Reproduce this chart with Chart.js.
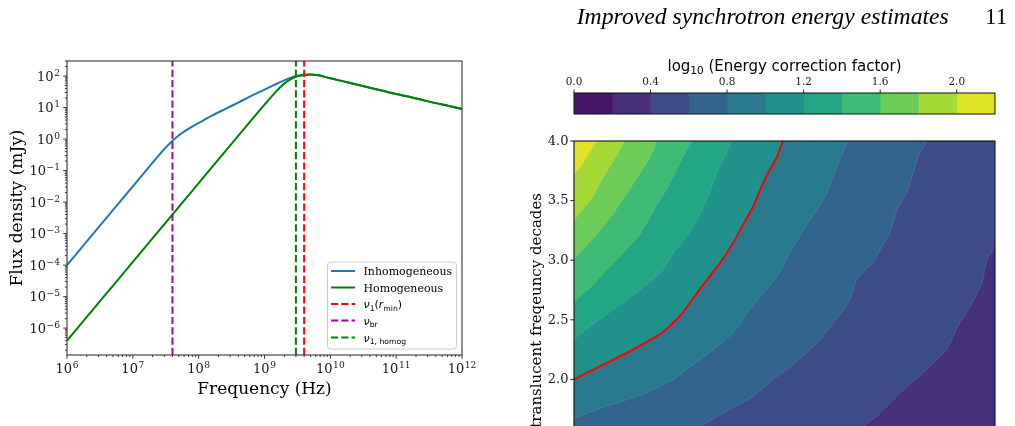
<!DOCTYPE html>
<html><head><meta charset="utf-8">
<title>Synchrotron spectra and energy correction factor</title>
<script src="https://cdn.jsdelivr.net/npm/chart.js@4.4.1/dist/chart.umd.min.js"></script>
<style>
html,body{margin:0;padding:0;background:#fff;overflow:hidden;}
body{width:1015px;height:426px;position:relative;}
canvas{position:absolute;display:block;}
#c1{left:0;top:0;}
#c2{left:500px;top:0;}
#c3{left:540px;top:40px;}
</style></head><body>
<canvas id="c1" width="500" height="426"></canvas>
<canvas id="c2" width="515" height="460"></canvas>
<canvas id="c3" width="475" height="90"></canvas>
<script>
// ================= LEFT PANEL DATA =================
const freqHz = [
  1.0e6, 1.585e6, 2.512e6, 3.981e6, 6.31e6,
  1.0e7, 1.585e7, 2.512e7, 3.162e7, 3.981e7, 5.012e7, 6.31e7, 7.943e7,
  1.0e8, 1.585e8, 2.512e8, 3.981e8, 6.31e8,
  1.0e9, 1.259e9, 1.585e9, 1.995e9, 2.512e9, 3.162e9, 3.981e9, 5.012e9, 6.31e9,
  1.0e10, 1.585e10, 2.512e10, 3.981e10, 6.31e10,
  1.0e11, 1.585e11, 2.512e11, 3.981e11, 6.31e11,
  1.0e12
];
const fluxInhomogeneous = [
  1.0e-4, 3.16e-4, 1.0e-3, 3.16e-3, 1.0e-2,
  3.16e-2, 0.100, 0.316, 0.537, 0.871, 1.318, 1.862, 2.483,
  3.236, 5.50, 8.91, 14.3, 23.4,
  37.2, 47.0, 58.9, 72.4, 89.1, 102, 110, 112, 107,
  85.1, 67.6, 53.7, 42.7, 33.9,
  26.9, 21.9, 17.4, 13.8, 11.2,
  8.9
];
const fluxHomogeneous = [
  4.0e-7, 1.26e-6, 4.0e-6, 1.26e-5, 4.0e-5,
  1.26e-4, 4.0e-4, 1.26e-3, 2.24e-3, 4.0e-3, 7.1e-3, 1.26e-2, 2.24e-2,
  4.0e-2, 0.126, 0.40, 1.26, 3.98,
  12.3, 21.4, 36.3, 57.5, 79.4, 97.7, 107, 112, 107,
  85.1, 67.6, 53.7, 42.7, 33.9,
  26.9, 21.9, 17.4, 13.8, 11.2,
  8.9
];
const nu1Rmin = 4.0e9;
const nuBr = 4.0e7;
const nu1Homog = 3.0e9;
const freqRange = [1.0e6, 1.0e12];
const fluxRange = [1.4e-7, 3.0e2];
const xTickExponents = [6, 7, 8, 9, 10, 11, 12];
const yTickExponents = [-6, -5, -4, -3, -2, -1, 0, 1, 2];

// ================= RIGHT PANEL DATA =================
const contourLevels = [0.0, 0.2, 0.4, 0.6, 0.8, 1.0, 1.2, 1.4, 1.6, 1.8, 2.0, 2.2];
const levelColors = ['#481668', '#462f7c', '#3e4b89', '#33648d', '#297a8e', '#21918c',
                     '#22a685', '#3ebb74', '#6bcc59', '#a5da36', '#e0e325'];
const colorbarTicks = [0.0, 0.4, 0.8, 1.2, 1.6, 2.0];
const rightYTicks = [2.0, 2.5, 3.0, 3.5, 4.0];
const rightXRange = [0, 1];
const rightYRange = [1.5, 4.0];
// contour boundaries: [x (fraction of axis), translucent frequency decades]
const boundary0p4 = [[0,1.0],[0.656,1.492],[0.689,1.609],[0.720,1.693],[0.784,1.919],[0.834,2.070],
  [0.886,2.255],[0.910,2.431],[0.917,2.473],[0.943,2.624],[0.969,2.809],[0.981,3.002],[1.0,3.111]];
const boundary0p6 = [[0,1.0],[0.204,1.450],[0.252,1.525],[0.302,1.609],[0.363,1.735],[0.428,1.861],
  [0.468,1.987],[0.525,2.138],[0.582,2.322],[0.610,2.448],[0.632,2.549],[0.648,2.624],[0.658,2.691],
  [0.670,2.826],[0.689,2.909],[0.710,2.977],[0.727,3.086],[0.751,3.237],[0.767,3.421],[0.791,3.572],
  [0.808,3.757],[0.819,3.883],[0.838,4.0]];
const boundary0p8 = [[0,1.676],[0.078,1.777],[0.166,1.878],[0.238,2.003],[0.278,2.112],[0.333,2.255],
  [0.380,2.398],[0.413,2.565],[0.442,2.691],[0.482,2.859],[0.513,3.069],[0.542,3.237],[0.570,3.388],
  [0.599,3.547],[0.620,3.748],[0.637,3.891],[0.648,4.0]];
const boundary1p0 = [[0,2.0],[0.038,2.070],[0.078,2.138],[0.143,2.255],[0.181,2.331],[0.211,2.398],
  [0.252,2.532],[0.299,2.758],[0.347,2.977],[0.378,3.144],[0.401,3.295],[0.425,3.446],[0.442,3.589],
  [0.463,3.748],[0.482,3.866],[0.496,4.0]];
const boundary1p2 = [[0,2.339],[0.048,2.473],[0.095,2.591],[0.159,2.758],[0.207,2.901],[0.238,3.069],
  [0.271,3.220],[0.297,3.371],[0.318,3.530],[0.340,3.740],[0.359,3.883],[0.375,4.0]];
const boundary1p4 = [[0,2.649],[0.040,2.775],[0.078,2.918],[0.119,3.069],[0.154,3.203],[0.176,3.329],
  [0.197,3.463],[0.219,3.589],[0.238,3.715],[0.259,3.866],[0.280,4.0]];
const boundary1p6 = [[0,3.010],[0.029,3.119],[0.057,3.228],[0.086,3.354],[0.119,3.522],[0.159,3.740],
  [0.181,3.866],[0.197,4.0]];
const boundary1p8 = [[0,3.337],[0.026,3.446],[0.048,3.547],[0.062,3.648],[0.083,3.773],[0.102,3.883],[0.121,4.0]];
const boundary2p0 = [[0,3.715],[0.019,3.799],[0.033,3.883],[0.055,4.0]];

// ================= helpers =================
function drawPow10(ctx, exp, x, baseline, align) {
  const base = '10';
  const sup = exp < 0 ? '\u2212' + (-exp) : String(exp);
  ctx.textAlign = 'left'; ctx.textBaseline = 'alphabetic';
  ctx.font = '13px "DejaVu Serif"';
  const w1 = ctx.measureText(base).width;
  ctx.font = '9.1px "DejaVu Serif"';
  const w2 = ctx.measureText(sup).width;
  const total = w1 + w2 + 0.6;
  const x0 = align === 'center' ? x - total / 2 : (align === 'right' ? x - total : x);
  ctx.font = '13px "DejaVu Serif"';
  ctx.fillText(base, x0, baseline);
  ctx.font = '9.1px "DejaVu Serif"';
  ctx.fillText(sup, x0 + w1 + 0.6, baseline - 4.8);
}
function richFont(seg, size) {
  if (seg.f === 'txt') return size + 'px "DejaVu Serif"';
  if (seg.f === 'rm') return size + 'px "DejaVu Sans"';
  if (seg.f === 'it') return 'italic ' + size + 'px "DejaVu Sans"';
  return (size * 0.7).toFixed(2) + 'px "DejaVu Sans"';
}
function measureRich(ctx, segs, size) {
  let w = 0;
  for (const s of segs) { ctx.font = richFont(s, size); w += ctx.measureText(s.t).width; }
  return w;
}
function drawRich(ctx, segs, x, baseline, size, subShift) {
  let cx = x;
  ctx.textAlign = 'left'; ctx.textBaseline = 'alphabetic';
  for (const s of segs) {
    ctx.font = richFont(s, size);
    ctx.fillText(s.t, cx, baseline + (s.f === 'sub' ? subShift : 0));
    cx += ctx.measureText(s.t).width;
  }
}

// ================= LEFT PANEL =================
const leftDecor = {
  id: 'leftDecor',
  afterDraw(chart) {
    const { ctx, chartArea: a } = chart;
    const xs = chart.scales.x, ys = chart.scales.y;
    ctx.save();
    ctx.strokeStyle = '#222';
    ctx.fillStyle = '#222';
    ctx.lineWidth = 0.9;
    for (let e = 6; e <= 12; e++) {
      for (let m = 1; m <= 9; m++) {
        const v = m * Math.pow(10, e);
        if (v < freqRange[0] * 0.999 || v > freqRange[1] * 1.001) continue;
        const px = xs.getPixelForValue(v);
        const len = m === 1 ? 3.8 : 2.1;
        ctx.beginPath(); ctx.moveTo(px, a.bottom); ctx.lineTo(px, a.bottom + len); ctx.stroke();
      }
    }
    for (let e = -7; e <= 2; e++) {
      for (let m = 1; m <= 9; m++) {
        const v = m * Math.pow(10, e);
        if (v < fluxRange[0] || v > fluxRange[1]) continue;
        const py = ys.getPixelForValue(v);
        const len = m === 1 ? 3.8 : 2.1;
        ctx.beginPath(); ctx.moveTo(a.left, py); ctx.lineTo(a.left - len, py); ctx.stroke();
      }
    }
    ctx.lineWidth = 1.1;
    ctx.strokeStyle = '#333';
    ctx.strokeRect(a.left, a.top, a.right - a.left, a.bottom - a.top);
    ctx.fillStyle = '#1a1a1a';
    for (const e of xTickExponents) {
      drawPow10(ctx, e, xs.getPixelForValue(Math.pow(10, e)), a.bottom + 17.5, 'center');
    }
    for (const e of yTickExponents) {
      drawPow10(ctx, e, a.left - 7, ys.getPixelForValue(Math.pow(10, e)) + 4.5, 'right');
    }
    ctx.fillStyle = '#000';
    ctx.font = '17px "DejaVu Serif"';
    ctx.textAlign = 'center'; ctx.textBaseline = 'alphabetic';
    ctx.fillText('Frequency (Hz)', (a.left + a.right) / 2, 393.5);
    ctx.save();
    ctx.translate(21.5, (a.top + a.bottom) / 2);
    ctx.rotate(-Math.PI / 2);
    ctx.fillText('Flux density (mJy)', 0, 0);
    ctx.restore();
    // legend
    const bx = 327.5, by = 262, bw = 129, bh = 87, r = 3;
    ctx.beginPath();
    ctx.moveTo(bx + r, by); ctx.lineTo(bx + bw - r, by); ctx.quadraticCurveTo(bx + bw, by, bx + bw, by + r);
    ctx.lineTo(bx + bw, by + bh - r); ctx.quadraticCurveTo(bx + bw, by + bh, bx + bw - r, by + bh);
    ctx.lineTo(bx + r, by + bh); ctx.quadraticCurveTo(bx, by + bh, bx, by + bh - r);
    ctx.lineTo(bx, by + r); ctx.quadraticCurveTo(bx, by, bx + r, by);
    ctx.closePath();
    ctx.fillStyle = 'rgba(255,255,255,0.8)'; ctx.fill();
    ctx.lineWidth = 1; ctx.strokeStyle = '#cccccc'; ctx.stroke();
    const rows = [271, 287.5, 304, 320.5, 337.5];
    chart.data.datasets.forEach((ds, i) => {
      const y = rows[i];
      ctx.save();
      ctx.strokeStyle = ds.borderColor; ctx.lineWidth = 2;
      ctx.setLineDash(ds.borderDash || []);
      ctx.beginPath(); ctx.moveTo(331, y); ctx.lineTo(355, y); ctx.stroke();
      ctx.restore();
      ctx.fillStyle = '#000';
      drawRich(ctx, ds.math, 363.5, y + 4, 11, 2.6);
    });
    ctx.restore();
  }
};

function curve(xs, ys) { return xs.map((f, i) => ({ x: f, y: ys[i] })); }
function vline(v) { return [{ x: v, y: fluxRange[0] }, { x: v, y: fluxRange[1] }]; }

new Chart(document.getElementById('c1'), {
  type: 'line',
  data: {
    datasets: [
      { label: 'Inhomogeneous', math: [{ t: 'Inhomogeneous', f: 'txt' }],
        data: curve(freqHz, fluxInhomogeneous), borderColor: '#1f77b4', borderWidth: 2,
        pointRadius: 0, cubicInterpolationMode: 'monotone', fill: false, order: 4 },
      { label: 'Homogeneous', math: [{ t: 'Homogeneous', f: 'txt' }],
        data: curve(freqHz, fluxHomogeneous), borderColor: '#008000', borderWidth: 2,
        pointRadius: 0, cubicInterpolationMode: 'monotone', fill: false, order: 3 },
      { label: 'ν1(rmin)', math: [{ t: 'ν', f: 'it' }, { t: '1', f: 'sub' }, { t: '(', f: 'rm' }, { t: 'r', f: 'it' }, { t: 'min', f: 'sub' }, { t: ')', f: 'rm' }],
        data: vline(nu1Rmin), borderColor: '#ff0000', borderWidth: 2, borderDash: [7.2, 3.1],
        pointRadius: 0, fill: false, order: 2 },
      { label: 'νbr', math: [{ t: 'ν', f: 'it' }, { t: 'br', f: 'sub' }],
        data: vline(nuBr), borderColor: '#9a0c9a', borderWidth: 2, borderDash: [7.2, 3.1],
        pointRadius: 0, fill: false, order: 1 },
      { label: 'ν1,homog', math: [{ t: 'ν', f: 'it' }, { t: '1, homog', f: 'sub' }],
        data: vline(nu1Homog), borderColor: '#008000', borderWidth: 2, borderDash: [7.2, 3.1],
        pointRadius: 0, fill: false, order: 0 }
    ]
  },
  options: {
    responsive: false, animation: false, events: [],
    layout: { padding: { left: 67, top: 61, right: 38, bottom: 71 } },
    plugins: { legend: { display: false }, tooltip: { enabled: false } },
    scales: {
      x: { type: 'logarithmic', min: freqRange[0], max: freqRange[1], display: false },
      y: { type: 'logarithmic', min: fluxRange[0], max: fluxRange[1], display: false }
    }
  },
  plugins: [leftDecor]
});

// ================= RIGHT PANEL (contour) =================
const boundaries = [
  { level: 0.4, pts: boundary0p4 }, { level: 0.6, pts: boundary0p6 }, { level: 0.8, pts: boundary0p8 },
  { level: 1.0, pts: boundary1p0 }, { level: 1.2, pts: boundary1p2 }, { level: 1.4, pts: boundary1p4 },
  { level: 1.6, pts: boundary1p6 }, { level: 1.8, pts: boundary1p8 }, { level: 2.0, pts: boundary2p0 }
];
const contourDatasets = boundaries.map(b => ({
  label: 'level ' + b.level.toFixed(1),
  data: b.pts.map(p => ({ x: p[0], y: p[1] })),
  fill: 'end',
  backgroundColor: levelColors[contourLevels.indexOf(b.level)],
  borderColor: 'rgba(220,235,240,0.22)', borderWidth: 0.6,
  pointRadius: 0, tension: 0.15,
  order: 100 - Math.round(b.level * 10)
}));
contourDatasets.push({
  label: 'log10 factor = 1', data: boundary1p0.map(p => ({ x: p[0], y: p[1] })),
  fill: false, borderColor: '#ff0000', borderWidth: 2, pointRadius: 0, tension: 0.15, order: -1
});

const rightDecor = {
  id: 'rightDecor',
  beforeDatasetsDraw(chart) {
    const { ctx, chartArea: a } = chart;
    ctx.save();
    ctx.fillStyle = levelColors[1];
    ctx.fillRect(a.left, a.top, a.right - a.left, a.bottom - a.top);
    ctx.restore();
  },
  afterDraw(chart) {
    const { ctx, chartArea: a } = chart;
    const ys = chart.scales.y;
    ctx.save();
    ctx.strokeStyle = '#111'; ctx.lineWidth = 1.1;
    ctx.strokeRect(a.left, a.top, a.right - a.left, a.bottom - a.top);
    ctx.lineWidth = 0.9;
    ctx.fillStyle = '#1a1a1a';
    ctx.font = '13px "DejaVu Serif"';
    ctx.textAlign = 'right'; ctx.textBaseline = 'middle';
    for (const t of rightYTicks) {
      const py = ys.getPixelForValue(t);
      ctx.beginPath(); ctx.moveTo(a.left, py); ctx.lineTo(a.left - 3.8, py); ctx.stroke();
      ctx.fillText(t.toFixed(1), a.left - 5.5, py + 0.5);
    }
    ctx.save();
    ctx.translate(40.5, 193);
    ctx.rotate(-Math.PI / 2);
    ctx.font = '15px "DejaVu Serif"';
    ctx.textAlign = 'right'; ctx.textBaseline = 'alphabetic';
    ctx.fillStyle = '#000';
    ctx.fillText('translucent freqeuncy decades', 0, 0);
    ctx.restore();
    // running header
    ctx.fillStyle = '#000';
    ctx.textAlign = 'left'; ctx.textBaseline = 'alphabetic';
    ctx.font = 'italic 23.7px "Liberation Serif"';
    ctx.fillText('Improved synchrotron energy estimates', 76.7, 23.5);
    ctx.font = '23px "Liberation Serif"';
    ctx.fillText('11', 485, 23.5);
    ctx.restore();
  }
};

new Chart(document.getElementById('c2'), {
  type: 'line',
  data: { datasets: contourDatasets },
  options: {
    responsive: false, animation: false, events: [],
    layout: { padding: { left: 74, top: 141, right: 20, bottom: 21 } },
    plugins: { legend: { display: false }, tooltip: { enabled: false } },
    scales: {
      x: { type: 'linear', min: rightXRange[0], max: rightXRange[1], display: false },
      y: { type: 'linear', min: rightYRange[0], max: rightYRange[1], display: false }
    }
  },
  plugins: [rightDecor]
});

// ================= COLORBAR =================
const cbarDecor = {
  id: 'cbarDecor',
  afterDraw(chart) {
    const { ctx, chartArea: a } = chart;
    const xs = chart.scales.x;
    ctx.save();
    ctx.strokeStyle = '#111'; ctx.lineWidth = 1;
    ctx.strokeRect(a.left, a.top, a.right - a.left, a.bottom - a.top);
    ctx.lineWidth = 0.9;
    ctx.fillStyle = '#1a1a1a';
    ctx.font = '10.5px "DejaVu Serif"';
    ctx.textAlign = 'center'; ctx.textBaseline = 'alphabetic';
    for (const t of colorbarTicks) {
      const px = xs.getPixelForValue(t);
      ctx.beginPath(); ctx.moveTo(px, a.top); ctx.lineTo(px, a.top - 3.5); ctx.stroke();
      ctx.fillText(t.toFixed(1), px, a.top - 8);
    }
    const segs = [{ t: 'log', f: 'rm' }, { t: '10', f: 'sub' }, { t: ' (Energy correction factor)', f: 'rm' }];
    ctx.fillStyle = '#000';
    const w = measureRich(ctx, segs, 15);
    drawRich(ctx, segs, (a.left + a.right) / 2 - w / 2, 31, 15, 3.3);
    ctx.restore();
  }
};

new Chart(document.getElementById('c3'), {
  type: 'bar',
  data: {
    labels: ['colorbar'],
    datasets: levelColors.map((c, i) => ({
      label: contourLevels[i].toFixed(1) + '–' + contourLevels[i + 1].toFixed(1),
      data: [[contourLevels[i], contourLevels[i + 1]]],
      backgroundColor: c, borderWidth: 0, grouped: false,
      barPercentage: 1, categoryPercentage: 1
    }))
  },
  options: {
    indexAxis: 'y',
    responsive: false, animation: false, events: [],
    layout: { padding: { left: 34, top: 53, right: 20, bottom: 16 } },
    plugins: { legend: { display: false }, tooltip: { enabled: false } },
    scales: {
      x: { type: 'linear', min: contourLevels[0], max: contourLevels[contourLevels.length - 1], display: false },
      y: { display: false }
    }
  },
  plugins: [cbarDecor]
});
</script>
</body></html>
